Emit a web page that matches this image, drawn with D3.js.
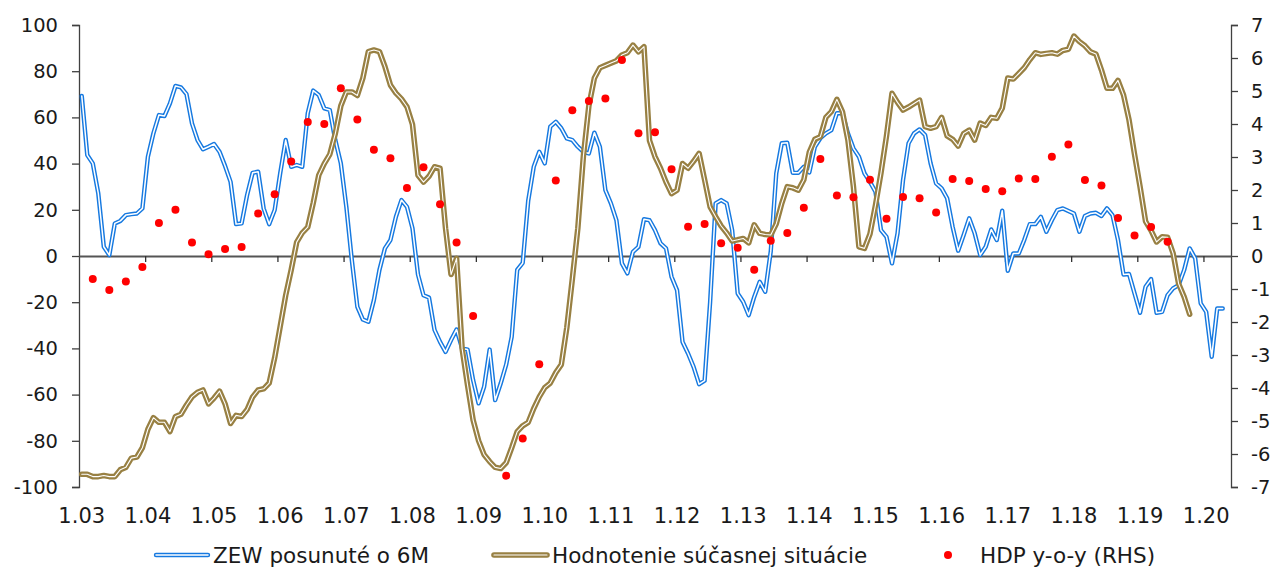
<!DOCTYPE html>
<html>
<head>
<meta charset="utf-8">
<script src="https://cdn.jsdelivr.net/npm/d3@7"></script>
<style>
  body { margin: 0; background: #fff; }
  text { font-family: "DejaVu Sans", Verdana, sans-serif; fill: #1a1a1a; }
</style>
</head>
<body>
<div id="chart"></div>
<script>
  // monthly categories from 1.03 to 5.20
  const monthCount = 209;
  const yearLabels = ['1.03', '1.04', '1.05', '1.06', '1.07', '1.08', '1.09', '1.10', '1.11',
    '1.12', '1.13', '1.14', '1.15', '1.16', '1.17', '1.18', '1.19', '1.20'];

  // ZEW expectations shifted by 6 months (monthly, from 1.03)
  const zewShifted = [69.3, 43.7, 40.1, 27.1, 4, 0.4, 14.1, 15.2, 17.7, 18.1, 18.4, 20.6,
    43, 53.1, 61, 60.6, 66.1, 73.6, 73, 70.1, 57.4, 50.2, 46.2, 47.3,
    48.5, 45.1, 39, 32.1, 13.8, 14.1, 26.4, 36, 36.5, 20.6, 13.8, 19.9,
    35.8, 50.2, 38.6, 39.4, 38.6, 61.8, 71.6, 69.7, 63.9, 63.2, 50.2, 40.1,
    21.3, -1.8, -22, -27.5, -28.5, -19.1, -6.1, 3.3, 6.9, 17, 24.2, 21.3,
    12, -8, -17, -18, -32, -37.2, -41.5, -36.4, -31.8, -40, -40.5, -53.7,
    -63.8, -56.6, -40.5, -62.4, -55.2, -47, -35, -6, -3, 24, 38.6, 45.1,
    40.1, 56, 58.1, 55.3, 50.9, 50.2, 47.3, 45.1, 44.4, 53.4, 47.3, 28.5,
    22.8, 15.5, -3.2, -7.5, 1.8, 4, 15.9, 15.5, 11.2, 5.5, 3.3, -9,
    -14.8, -37.2, -42.2, -48, -55.5, -54, -20, 22.8, 24.2, 22.8, 11.2, -16.2,
    -19.8, -25.6, -17.7, -11.2, -15.5, 2, 35.8, 48.8, 49, 36, 36, 38.6,
    36.2, 47.3, 51, 53.1, 54.5, 61.8, 61.8, 53.1, 46.6, 43, 35.8, 32.1,
    27.8, 11.2, 8.3, -3.2, 9.8, 32.9, 48.8, 53.1, 54.8, 52.4, 40.1, 31.4,
    29.3, 25, 12.6, 2.3, 9.1, 16.3, 9.8, 0.4, 4, 11.5, 6.9, 19.6,
    -6.4, 1.1, 1.1, 7, 13.8, 13.8, 17, 10.5, 15.5, 19.9, 20.6, 19.5,
    18.4, 10.5, 17.3, 18.4, 18.7, 17.3, 20.6, 17.7, 6.9, -8, -7.8, -16.2,
    -24.6, -13.3, -10, -24.6, -24.2, -16.9, -14, -12.6, -6.1, 3.3, -1, -20.5,
    -24.2, -43.6, -22.7, -22.7];

  // ZEW current situation (monthly, from 1.03)
  const currentSituation = [-94.5, -94.5, -95.5, -95.5, -95, -95.5, -95.5, -92.5, -91.5, -87.5, -87, -83,
    -75, -70, -72, -72, -76, -69.5, -68.5, -64.5, -61, -59, -58, -64,
    -61.5, -58.5, -64, -72.5, -69, -69.5, -66.5, -61, -58, -57.5, -55, -44,
    -30.5, -17, -6, 6, 10, 12.5, 23, 35, 40, 44, 53, 65,
    71, 71, 69.5, 77, 88.5, 89.2, 88.5, 82, 74, 70.5, 68, 64.6,
    57, 35, 32, 34.5, 38.6, 38, 12, -8, -1, -40, -56, -71,
    -80, -86, -89, -91.5, -92, -89.5, -83, -76, -73.5, -72, -66, -61,
    -57, -55, -50.5, -47, -31, -10, 12, 43, 65, 77, 81.5, 82.5,
    83.5, 84.5, 87, 88, 91.3, 88.4, 90.6, 50, 43, 38, 32, 27,
    28.5, 40, 38, 41, 44.4, 33, 21.3, 17, 13, 10, 6.5, 7,
    7.6, 5.7, 13.5, 9.8, 9.3, 9.1, 14, 22.8, 30, 29.5, 28.5, 33,
    45, 50.5, 51.6, 60, 62.5, 67.8, 62.5, 50.2, 30, 4, 3.3, 9.5,
    22, 36, 52, 70.4, 66.5, 63.2, 64.5, 66, 67.5, 56, 55.3, 56,
    60, 52, 50.5, 47.6, 53, 54.5, 50.2, 57.5, 56.5, 60, 59.6, 64,
    77, 76.6, 79, 81.5, 85, 88, 87.3, 87.7, 88, 87.4, 89, 89.5,
    95.2, 92.8, 91, 88.4, 87.4, 80.5, 72.6, 72.6, 76, 69.7, 58.9, 44,
    30, 15, 11, 6.1, 8.3, 8.1, 1.1, -12, -17.7, -25.2];

  // GDP y-o-y, quarterly (placed on the last month of each quarter)
  const gdpYoY = [-0.7, -1.03, -0.77, -0.33, 1.0, 1.4, 0.41, 0.05, 0.21, 0.27,
    1.29, 1.87, 2.86, 4.06, 4.0, 5.08, 4.14, 3.22, 2.96, 2.06,
    2.69, 1.57, 0.41, -1.82, null, -6.66, -5.53, -3.28, 2.29, 4.42,
    4.7, 4.77, 5.94, 3.72, 3.75, 2.63, 0.89, 0.97, 0.39, 0.25,
    -0.42, 0.46, 0.7, 1.46, 2.94, 1.83, 1.78, 2.31, 1.13, 1.79,
    1.75, 1.32, 2.33, 2.27, 2.03, 1.96, 2.35, 2.33, 3.01, 3.38,
    2.3, 2.14, 1.15, 0.62, 0.88, 0.43];

  const leftTicks = d3.range(-100, 101, 20);
  const rightTicks = d3.range(-7, 8, 1);

  const width = 1273;
  const height = 567;
  const plot = { left: 79, right: 1231, top: 25, bottom: 487 };

  const blue = '#1679e0';
  const brown = '#988043';
  const axisColor = '#404040';

  const svg = d3.select('#chart')
    .append('svg')
    .attr('width', width)
    .attr('height', height);

  const x = d3.scaleLinear().domain([0, monthCount]).range([plot.left, plot.right]);
  const yLeft = d3.scaleLinear().domain([-100, 100]).range([plot.bottom, plot.top]);
  const yRight = d3.scaleLinear().domain([-7, 7]).range([plot.bottom, plot.top]);

  // axes (plain hyphen for negatives, like the source)
  const plain = d => String(d);
  const leftAxis = svg.append('g')
    .attr('transform', `translate(${plot.left},0)`)
    .call(d3.axisLeft(yLeft).tickValues(leftTicks).tickFormat(plain).tickSize(7).tickPadding(14));
  const rightAxis = svg.append('g')
    .attr('transform', `translate(${plot.right},0)`)
    .call(d3.axisRight(yRight).tickValues(rightTicks).tickFormat(plain).tickSize(7).tickPadding(13));
  [leftAxis, rightAxis].forEach(g => {
    g.select('.domain').attr('stroke', axisColor).attr('stroke-width', 1.3);
    g.selectAll('.tick line').attr('stroke', axisColor).attr('stroke-width', 1.3);
    g.selectAll('.tick text')
      .style('font-size', '19.5px')
      .style('font-family', '"DejaVu Sans", Verdana, sans-serif')
      .attr('fill', '#1a1a1a');
  });

  // category axis along zero
  const yearTicks = yearLabels.map((d, i) => i * 12);
  const bottomAxis = svg.append('g')
    .attr('transform', `translate(0,${yLeft(0)})`)
    .call(d3.axisBottom(x).tickValues(yearTicks).tickSize(6).tickSizeOuter(0).tickFormat(''));
  bottomAxis.select('.domain').attr('stroke', '#555').attr('stroke-width', 2);
  bottomAxis.selectAll('.tick line').attr('stroke', '#333').attr('stroke-width', 1.3);
  bottomAxis.selectAll('.tick').filter(d => d === 0).remove();

  svg.append('g')
    .selectAll('text')
    .data(yearLabels)
    .enter()
    .append('text')
    .attr('x', (d, i) => x(i * 12 + 0.5))
    .attr('y', 523)
    .attr('text-anchor', 'middle')
    .style('font-size', '21px')
    .text(d => d);

  // double lines
  const line = (yScale) => d3.line()
    .defined(d => d != null)
    .x((d, i) => x(i + 0.5))
    .y(d => yScale(d));

  const drawDouble = (data, color, outer, inner) => {
    const g = svg.append('g');
    g.append('path')
      .datum(data)
      .attr('d', line(yLeft))
      .attr('fill', 'none')
      .attr('stroke', color)
      .attr('stroke-width', outer)
      .attr('stroke-linejoin', 'round')
      .attr('stroke-linecap', 'round');
    g.append('path')
      .datum(data)
      .attr('d', line(yLeft))
      .attr('fill', 'none')
      .attr('stroke', '#fff')
      .attr('stroke-width', inner)
      .attr('stroke-linejoin', 'round')
      .attr('stroke-linecap', 'round');
  };

  drawDouble(zewShifted, blue, 4.4, 1.5);
  drawDouble(currentSituation, brown, 5.6, 1.1);

  // GDP dots
  svg.append('g')
    .selectAll('circle')
    .data(gdpYoY.map((v, k) => ({ m: 2 + 3 * k, v })).filter(d => d.v != null))
    .enter()
    .append('circle')
    .attr('cx', d => x(d.m + 0.5))
    .attr('cy', d => yRight(d.v))
    .attr('r', 4)
    .attr('fill', '#ff0000');

  // Legend
  const legendY = 555;
  const legendFont = '21.5px';
  const legend = svg.append('g');
  const sample = (x1, x2, color, outer, inner) => {
    legend.append('line').attr('x1', x1).attr('x2', x2).attr('y1', legendY).attr('y2', legendY)
      .attr('stroke', color).attr('stroke-width', outer).attr('stroke-linecap', 'round');
    legend.append('line').attr('x1', x1).attr('x2', x2).attr('y1', legendY).attr('y2', legendY)
      .attr('stroke', '#fff').attr('stroke-width', inner).attr('stroke-linecap', 'round');
  };
  sample(156, 208, blue, 4.4, 1.5);
  legend.append('text').attr('x', 213).attr('y', legendY + 8).style('font-size', legendFont).text('ZEW posunuté o 6M');
  sample(494, 547, brown, 5.6, 1.1);
  legend.append('text').attr('x', 552).attr('y', legendY + 8).style('font-size', legendFont).text('Hodnotenie súčasnej situácie');
  legend.append('circle').attr('cx', 948).attr('cy', legendY).attr('r', 4).attr('fill', '#ff0000');
  legend.append('text').attr('x', 980).attr('y', legendY + 8).style('font-size', legendFont).text('HDP y-o-y (RHS)');
</script>
</body>
</html>
